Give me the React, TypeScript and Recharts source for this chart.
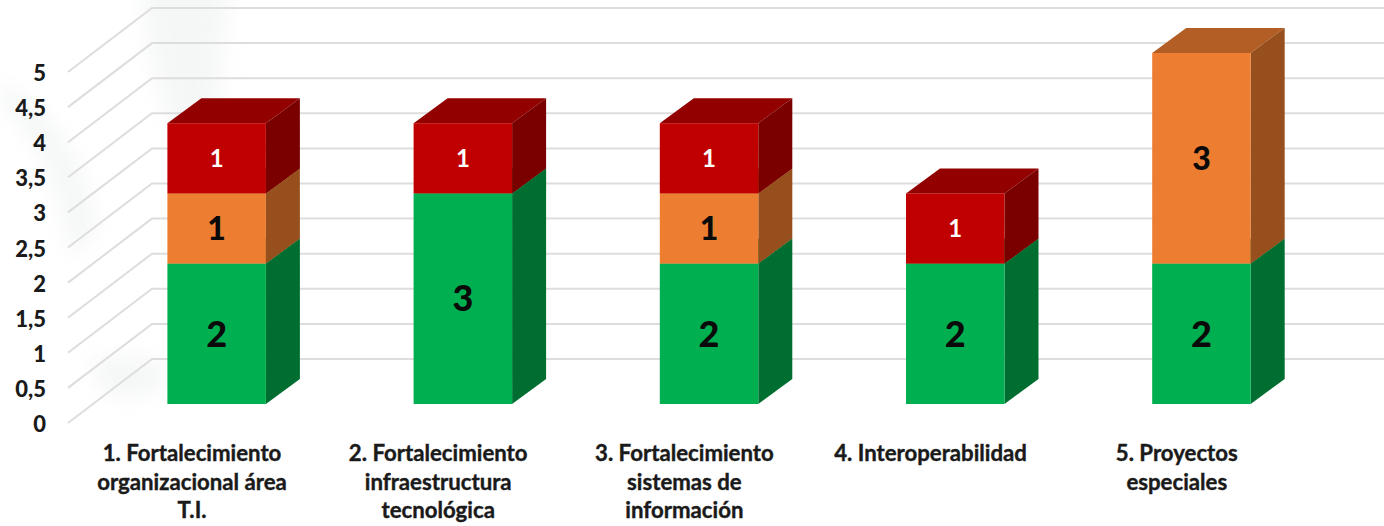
import React from 'react';
import { BarChart, Bar, XAxis, YAxis, CartesianGrid, LabelList } from 'recharts';

const categories = [
  '1. Fortalecimiento organizacional área T.I.',
  '2. Fortalecimiento infraestructura tecnológica',
  '3. Fortalecimiento sistemas de información',
  '4. Interoperabilidad',
  '5. Proyectos especiales',
];
const categoryLines = [
  ['1. Fortalecimiento', 'organizacional área', 'T.I.'],
  ['2. Fortalecimiento', 'infraestructura', 'tecnológica'],
  ['3. Fortalecimiento', 'sistemas de', 'información'],
  ['4. Interoperabilidad'],
  ['5. Proyectos', 'especiales'],
];
const verde = [2, 3, 2, 2, 2];
const naranja = [1, null, 1, null, 3];
const rojo = [1, 1, 1, 1, null];
const yTicks = [0, 0.5, 1, 1.5, 2, 2.5, 3, 3.5, 4, 4.5, 5];

const data = categories.map((name, i) => ({
  name,
  verde: verde[i],
  naranja: naranja[i],
  rojo: rojo[i],
}));

const font = 'Lato, Carlito, sans-serif';
const DEPTH_X = 34;
const DEPTH_Y = 25;

// front face plus the fake 3D top and side
const cube = (front: string, top: string, side: string) => (props: any) => {
  const { x, y, width, height } = props;
  if (!height) return <g />;
  const r = x + width;
  const b = y + height;
  return (
    <g>
      <polygon points={`${x},${y} ${x + DEPTH_X},${y - DEPTH_Y} ${r + DEPTH_X},${y - DEPTH_Y} ${r},${y}`} fill={top} />
      <polygon points={`${r},${y} ${r + DEPTH_X},${y - DEPTH_Y} ${r + DEPTH_X},${b - DEPTH_Y} ${r},${b}`} fill={side} />
      <rect x={x} y={y} width={width} height={height} fill={front} />
    </g>
  );
};

const gridLine = (props: any) => {
  const { y1 } = props;
  return (
    <path
      key={y1}
      d={`M68,${y1 + 19} L152,${y1 - 45} L1384,${y1 - 45}`}
      fill="none"
      stroke="#dddddd"
      strokeWidth={2}
    />
  );
};

const YTick = (props: any) => {
  const { y, payload } = props;
  return (
    <text x={46} y={y + 19} dy={9} textAnchor="end" fontFamily={font} fontWeight={900} fontSize={22} fill="#1a1a1a">
      {String(payload.value).replace('.', ',')}
    </text>
  );
};

const XTick = (props: any) => {
  const { x, index } = props;
  return (
    <g>
      {categoryLines[index].map((line, i) => (
        <text
          key={line}
          x={x - 24.5}
          y={461 + i * 28.5}
          textAnchor="middle"
          fontFamily={font}
          fontWeight={700}
          fontSize={22.2}
          fill="#1a1a1a"
          stroke="#1a1a1a"
          strokeWidth={0.4}
        >
          {line}
        </text>
      ))}
    </g>
  );
};

const App = () => (
  <div style={{ position: 'absolute', left: 0, top: 0, width: 1384, height: 526, background: '#fff' }}>
    <svg width={1384} height={526} style={{ position: 'absolute', left: 0, top: 0 }}>
      <defs>
        <filter id="blur"><feGaussianBlur stdDeviation="10" /></filter>
      </defs>
      <g filter="url(#blur)" fill="#eef1f0" opacity={0.55}>
        <path d="M140,-20 C145,60 165,120 185,150 L215,150 L230,-20 Z" />
        <path d="M0,80 C50,110 85,150 98,230 L70,260 C60,180 30,130 0,105 Z" />
        <path d="M90,360 C130,350 165,355 170,375 C160,400 120,405 100,390 Z" />
      </g>
    </svg>
    <div style={{ position: 'absolute', left: 0, top: 0 }}>
      <BarChart
        width={1384}
        height={526}
        data={data}
        margin={{ top: 53, right: 59.6, bottom: 0, left: 92.4 }}
      >
        <CartesianGrid vertical={false} horizontal={gridLine} horizontalValues={yTicks} />
        <XAxis dataKey="name" height={122} axisLine={false} tickLine={false} interval={0} tick={<XTick />} />
        <YAxis
          width={1}
          domain={[0, 5]}
          ticks={yTicks}
          interval={0}
          axisLine={false}
          tickLine={false}
          tick={<YTick />}
        />
        <Bar dataKey="verde" stackId="a" barSize={98.5} isAnimationActive={false} shape={cube('#00b050', '#008a3e', '#006e31')}>
          <LabelList dataKey="verde" position="center" fontFamily={font} fontWeight={900} fontSize={36} fill="#0a0a0a" />
        </Bar>
        <Bar dataKey="naranja" stackId="a" barSize={98.5} isAnimationActive={false} shape={cube('#ed7d31', '#b25e24', '#964f1d')}>
          <LabelList dataKey="naranja" position="center" fontFamily={font} fontWeight={900} fontSize={32} fill="#0a0a0a" />
        </Bar>
        <Bar dataKey="rojo" stackId="a" barSize={98.5} isAnimationActive={false} shape={cube('#c00000', '#920000', '#7a0000')}>
          <LabelList dataKey="rojo" position="center" fontFamily={font} fontWeight={700} fontSize={24} fill="#ffffff" />
        </Bar>
      </BarChart>
    </div>
  </div>
);

export default App;
